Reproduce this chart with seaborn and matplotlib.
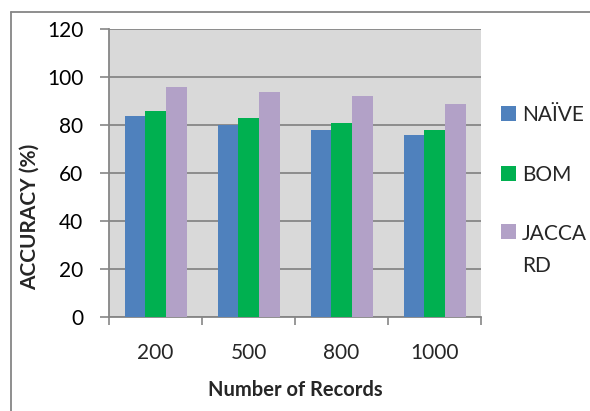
import numpy as np
import pandas as pd
import matplotlib
matplotlib.use("Agg")
import matplotlib.pyplot as plt
from matplotlib.lines import Line2D
import seaborn as sns

# Accuracy of each method for a given number of records
records = ["200", "500", "800", "1000"]
methods = ["NAÏVE", "BOM", "JACCARD"]
naive = [84, 80, 78, 76]
bom = [86, 83, 81, 78]
jaccard = [96, 94, 92, 89]
colors = ["#4f81bd", "#00b050", "#b2a1c7"]
yticks = [0, 20, 40, 60, 80, 100, 120]

df = pd.DataFrame({
    "records": records * 3,
    "method": [m for m in methods for _ in records],
    "accuracy": naive + bom + jaccard,
})

sns.set_style("white")
plt.rcParams["font.family"] = ["Lato", "DejaVu Sans"]
FS = 15

fig = plt.figure(figsize=(5.9, 4.11), dpi=100)
ax = fig.add_axes([109 / 590, 1 - 316.7 / 411, 372 / 590, 287.4 / 411])
ax.set_facecolor("#d9d9d9")

sns.barplot(data=df, x="records", y="accuracy", hue="method", order=records,
            hue_order=methods, palette=colors, width=2 / 3, gap=0,
            saturation=1, edgecolor="none", ax=ax, zorder=3)

grid_c = "#868686"
ax.set_ylim(0, 120)
ax.set_yticks(yticks)
ax.set_xlim(-0.5, len(records) - 0.5)
ax.yaxis.grid(True, color=grid_c, linewidth=1.3, zorder=0)
ax.set_axisbelow(True)
for s in ["top", "right"]:
    ax.spines[s].set_visible(False)
for s in ["left", "bottom"]:
    ax.spines[s].set_color(grid_c)
    ax.spines[s].set_linewidth(1.3)

ax.tick_params(axis="y", length=6.5, width=1.2, color=grid_c, pad=12,
               labelsize=FS, labelcolor="black", left=True)
ax.set_xticks(range(len(records)))
ax.set_xticklabels(records)
ax.tick_params(axis="x", which="major", length=0, pad=19, labelsize=FS)
ax.set_xticks(np.arange(-0.5, len(records)), minor=True)
ax.tick_params(axis="x", which="minor", length=6, width=1.2, color=grid_c,
               bottom=True)

ax.set_xlabel("Number of Records", fontsize=FS - 0.5, fontweight="bold",
              labelpad=12)
ax.set_ylabel("ACCURACY (%)", fontsize=FS, fontweight="bold")
ax.yaxis.set_label_coords(-0.185, 0.347)

# Legend with the long method name wrapped onto two lines
handles, labels = ax.get_legend_handles_labels()
labels = ["JACCA\nRD" if l == "JACCARD" else l for l in labels]
leg = ax.legend(handles, labels, loc="upper left",
                bbox_to_anchor=(501 / 590, 1 - 105 / 411),
                bbox_transform=fig.transFigure, frameon=False, fontsize=FS,
                handlelength=0.72, handleheight=0.72, handletextpad=0.3,
                labelspacing=1.9, borderaxespad=0, borderpad=0)
leg.get_texts()[2].set_linespacing(1.75)
# keep the swatch level with the first line of the wrapped label
entries = leg._legend_handle_box.get_children()[0].get_children()
entries[2].align = "top"

# Outer frame lines
fig.add_artist(Line2D([11 / 590, 1], [1 - 12 / 411, 1 - 12 / 411],
                      transform=fig.transFigure, color=grid_c, linewidth=1.3))
fig.add_artist(Line2D([11 / 590, 11 / 590], [0, 1 - 12 / 411],
                      transform=fig.transFigure, color=grid_c, linewidth=1.3))

fig.savefig("out.png", dpi=100)
